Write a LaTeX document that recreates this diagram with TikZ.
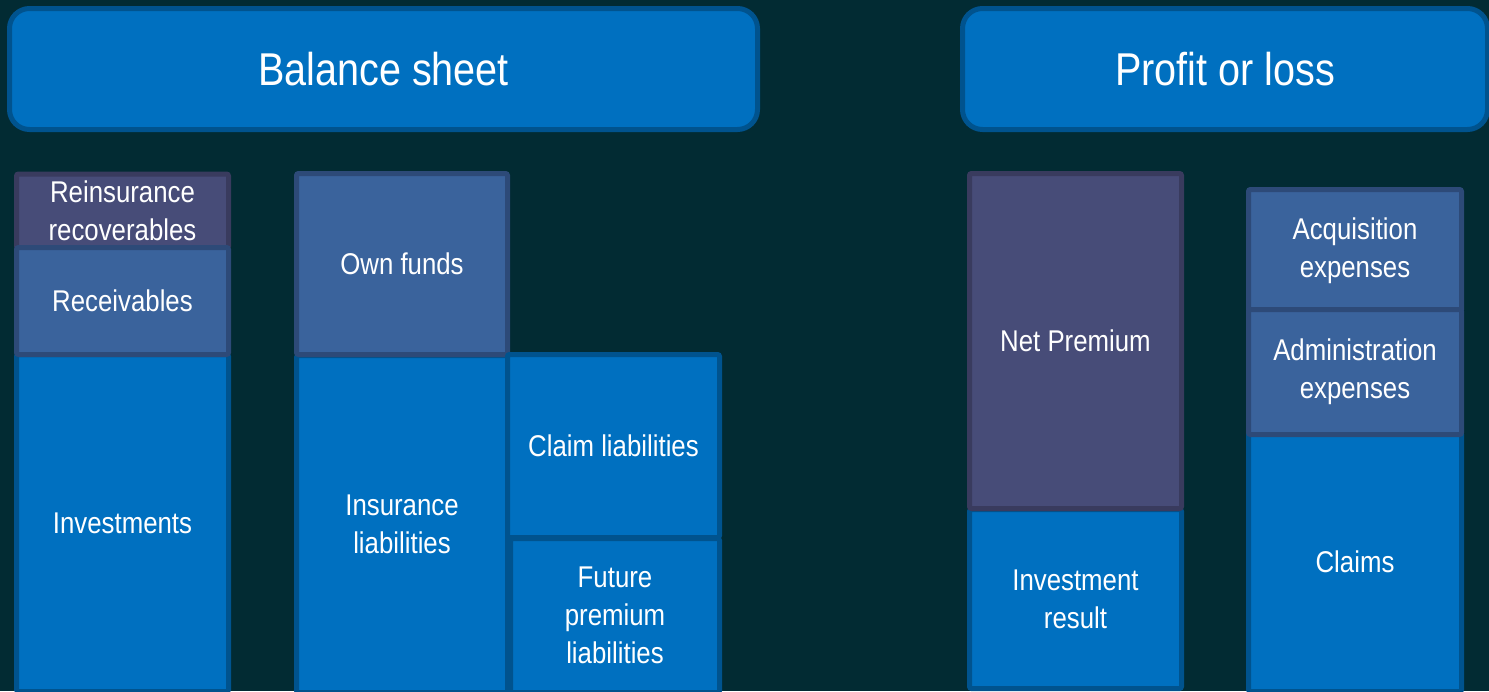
\documentclass[tikz,border=0pt]{standalone}
\usepackage{fontspec}
\setmainfont{Liberation Sans}[FakeStretch=0.86]
\usepackage{xcolor}

\definecolor{bgteal}{HTML}{022B33}
\definecolor{fillblue}{HTML}{0070C0}
\definecolor{edgeblue}{HTML}{00538E}
\definecolor{fillsteel}{HTML}{3A639C}
\definecolor{edgesteel}{HTML}{2D4A78}
\definecolor{fillplum}{HTML}{474C78}
\definecolor{edgeplum}{HTML}{393B5E}

\tikzset{
  part/.style={draw, line width=5pt, outer sep=0pt, inner sep=0pt, text=white,
    align=center, rounded corners=2pt, font=\fontsize{30}{38}\selectfont},
  bluepart/.style={part, fill=fillblue, draw=edgeblue},
  steelpart/.style={part, fill=fillsteel, draw=edgesteel},
  plumpart/.style={part, fill=fillplum, draw=edgeplum},
  heading/.style={draw=edgeblue, fill=fillblue, line width=5pt, outer sep=0pt,
    rounded corners=20pt, text=white, font=\fontsize{46}{55}\selectfont}
}

\begin{document}
\begin{tikzpicture}[x=1pt,y=-1pt]
\useasboundingbox (0,0) rectangle (1489,691);
\fill[bgteal] (0,0) rectangle (1489,691);

% headings
\node[heading, minimum width=748pt, minimum height=121pt] (bshead) at (383.5,69) {Balance sheet};
\node[heading, minimum width=525pt, minimum height=121pt] (plhead) at (1225,69) {Profit or loss};

% assets
\node[plumpart, minimum width=212pt, minimum height=74pt] (reins) at (122.5,211) {Reinsurance\\recoverables};
\node[bluepart, minimum width=212pt, minimum height=337pt] (invest) at (122.5,523) {Investments};
\node[steelpart, minimum width=212pt, minimum height=107pt] (recv) at (122.5,301) {Receivables};

% liabilities
\node[bluepart, minimum width=211pt, minimum height=337pt] (insliab) at (402,524) {Insurance\\liabilities};
\node[steelpart, minimum width=211pt, minimum height=181pt] (ownfunds) at (402,264) {Own funds};
\node[bluepart, minimum width=212pt, minimum height=183pt] (claimliab) at (613.5,446) {Claim liabilities};
\node[bluepart, minimum width=209pt, minimum height=154pt] (futprem) at (615,615.5) {Future\\premium\\liabilities};

% income
\node[bluepart, minimum width=212pt, minimum height=179pt] (invres) at (1075.5,599) {Investment\\result};
\node[plumpart, minimum width=212pt, minimum height=335pt] (netprem) at (1075.5,341) {Net Premium};

% expenses
\node[bluepart, minimum width=213pt, minimum height=259pt] (claims) at (1355,562) {Claims};
\node[steelpart, minimum width=213pt, minimum height=122pt] (acq) at (1355,250.5) {Acquisition\\expenses};
\node[steelpart, minimum width=213pt, minimum height=125pt] (admin) at (1355,372) {Administration\\expenses};
\end{tikzpicture}
\end{document}
